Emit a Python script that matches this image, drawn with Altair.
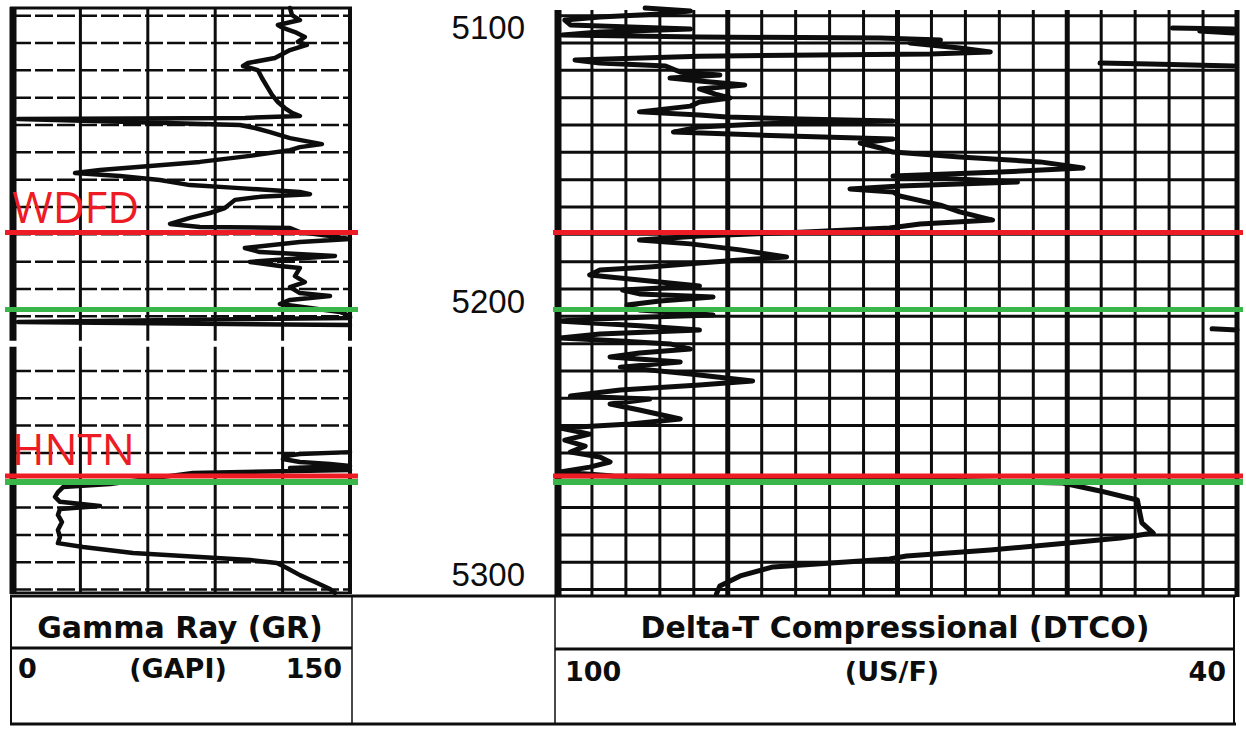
import altair as alt
import pandas as pd

# Gamma Ray curve (GAPI) vs depth (ft), two visible segments (off-scale in between)
GR1_DEPTH = [5092.2, 5094.8, 5096.6, 5098.4, 5099.5, 5101.0, 5102.8, 5104.6, 5105.7, 5107.6,
             5110.5, 5112.3, 5113.4, 5114.9, 5117.8, 5121.5, 5124.0, 5126.6, 5128.8, 5130.6,
             5131.7, 5132.4, 5132.8, 5133.9, 5135.0, 5136.1, 5137.6, 5139.8, 5142.0, 5143.1,
             5144.2, 5146.3, 5148.5, 5150.0, 5151.5, 5152.6, 5153.7, 5155.1, 5157.0, 5158.1,
             5159.5, 5160.3, 5161.3, 5162.4, 5165.4, 5167.2, 5169.0, 5171.2, 5172.3, 5172.7,
             5174.2, 5175.6, 5176.7, 5177.8, 5180.0, 5181.5, 5182.9, 5184.0, 5185.1, 5186.6,
             5187.3, 5190.3, 5192.5, 5194.3, 5196.5, 5197.6, 5199.0, 5200.5, 5202.0, 5203.4,
             5204.9, 5205.6, 5207.1, 5208.2]
GR1_VALUE = [123.3, 124.2, 127.7, 117.9, 120.2, 125.5, 129.9, 126.8, 130.8, 123.3,
             116.6, 104.6, 102.4, 109.0, 110.8, 113.5, 115.3, 117.9, 121.0, 124.2,
             127.7, 103.2, 2.2, 52.1, 101.0, 107.7, 114.4, 123.3, 137.5, 127.7,
             123.3, 105.5, 83.2, 61.0, 38.7, 27.6, 47.6, 65.4, 78.8, 101.0,
             127.7, 132.2, 109.9, 98.8, 94.3, 87.7, 78.8, 69.9, 83.2, 123.3,
             127.7, 141.1, 150.0, 127.7, 103.2, 109.9, 143.3, 123.3, 105.5, 118.8,
             127.7, 125.5, 129.9, 123.3, 127.7, 141.1, 123.3, 118.8, 132.2, 145.5,
             150.0, 150.0, 2.2, 150.0]
GR2_DEPTH = [5254.7, 5255.4, 5256.1, 5257.2, 5258.3, 5259.0, 5259.8, 5260.5, 5261.2, 5262.3,
             5266.4, 5267.5, 5269.3, 5271.1, 5272.9, 5274.4, 5275.5, 5277.7, 5280.3, 5283.2,
             5285.8, 5288.0, 5289.4, 5291.6, 5293.1, 5294.2, 5295.3, 5297.1, 5299.7, 5302.2,
             5304.8, 5306.2]
GR2_VALUE = [150.0, 127.7, 121.0, 120.2, 127.7, 141.1, 150.0, 123.3, 150.0, 80.1,
             43.2, 22.3, 20.0, 18.7, 20.9, 38.7, 20.9, 20.0, 21.8, 20.0,
             20.9, 20.0, 31.2, 53.4, 83.2, 105.5, 117.5, 121.9, 127.7, 134.4,
             141.1, 143.3]

# Delta-T Compressional curve (us/ft) vs depth
DT_DEPTH = [5092.2, 5093.3, 5094.4, 5095.5, 5096.6, 5098.4, 5099.9, 5101.0, 5102.1, 5102.8,
            5103.2, 5103.9, 5105.0, 5106.8, 5108.3, 5109.0, 5109.8, 5111.2, 5112.3, 5113.4,
            5115.6, 5116.7, 5117.8, 5118.9, 5120.4, 5121.8, 5123.7, 5125.1, 5126.6, 5128.1,
            5130.2, 5131.3, 5132.1, 5132.8, 5133.5, 5134.6, 5135.7, 5137.6, 5138.7, 5140.1,
            5141.6, 5143.4, 5144.9, 5146.7, 5148.5, 5150.7, 5152.2, 5153.7, 5155.9, 5157.3,
            5158.4, 5159.5, 5161.0, 5164.3, 5166.8, 5169.8, 5171.2, 5172.7, 5174.2, 5175.6,
            5177.1, 5178.5, 5180.7, 5183.3, 5184.4, 5185.5, 5187.0, 5188.1, 5189.9, 5191.7,
            5193.9, 5195.4, 5196.8, 5197.9, 5199.4, 5200.9, 5202.7, 5204.5, 5205.6, 5206.7,
            5208.5, 5210.0, 5211.5, 5212.9, 5214.0, 5215.1, 5217.0, 5218.4, 5219.9, 5221.7,
            5223.6, 5226.1, 5228.7, 5230.1, 5232.0, 5234.2, 5235.3, 5237.1, 5239.3, 5242.6,
            5244.4, 5245.9, 5248.1, 5250.3, 5252.5, 5254.7, 5256.5, 5258.3, 5260.2, 5262.0,
            5263.4, 5264.6, 5266.0, 5268.9, 5272.2, 5276.6, 5280.6, 5284.3, 5286.1, 5288.3,
            5290.5, 5292.7, 5293.8, 5296.7, 5300.0, 5303.7, 5306.6]
DT_VALUE = [92.3, 88.3, 91.0, 96.3, 99.4, 98.9, 88.3, 96.3, 99.6, 87.5,
            71.5, 66.2, 68.9, 64.5, 61.8, 67.1, 87.5, 98.5, 96.3, 90.5,
            89.2, 85.7, 90.1, 87.5, 83.5, 87.5, 86.1, 84.8, 87.5, 88.3,
            92.8, 87.5, 85.1, 78.6, 70.4, 82.2, 87.5, 89.8, 82.2, 70.4,
            73.3, 71.5, 70.4, 64.5, 57.4, 53.6, 60.9, 70.4, 59.4, 69.8,
            74.2, 70.4, 69.8, 66.2, 64.5, 61.6, 68.0, 70.7, 78.6, 87.5,
            92.8, 88.3, 83.9, 79.8, 83.9, 87.5, 91.9, 96.3, 97.2, 92.8,
            87.5, 94.3, 92.8, 86.3, 91.0, 93.9, 92.8, 86.3, 94.5, 100.0,
            92.8, 87.5, 96.3, 99.8, 94.5, 90.1, 88.3, 92.8, 95.4, 89.2,
            94.5, 88.3, 82.8, 87.5, 94.5, 98.9, 91.9, 95.4, 92.8, 89.2,
            93.6, 99.8, 97.2, 99.4, 97.6, 98.9, 96.3, 95.4, 97.2, 99.8,
            95.1, 69.8, 55.4, 52.1, 48.8, 48.6, 48.4, 47.4, 50.3, 55.9,
            61.8, 69.2, 70.7, 81.0, 83.9, 85.7, 86.0]
# wrapped (off-scale) pieces at the right edge of the DT track
DTW_SEG = ["w1", "w1", "w1", "w1", "w2", "w2", "w2", "w3", "w3"]
DTW_DEPTH = [5099.5, 5099.9, 5100.6, 5101.3, 5112.3, 5112.7, 5113.4, 5209.6, 5210.0]
DTW_VALUE = [45.7, 40.3, 43.3, 40.3, 52.1, 47.7, 40.3, 42.2, 40.0]

# formation tops
TOP_NAMES = ["WDFD", "HNTN"]
TOP_DEPTHS = [5174.3, 5263.4]
BASE_DEPTHS = [5202.5, 5265.6]

DEPTH_LABELS = [5100, 5200, 5300]
GRID_DEPTHS = [5095, 5105, 5115, 5125, 5135, 5145, 5155, 5165, 5175, 5185, 5195,
               5205, 5215, 5225, 5235, 5245, 5255, 5265, 5275, 5285, 5295, 5305]
GR_GRID = [0, 30, 60, 90, 120, 150]
DT_GRID = [100, 97, 94, 91, 88, 85, 82, 79, 76, 73, 70, 67, 64, 61, 58, 55, 52, 49, 46, 43, 40]
DT_MAJOR = [100, 85, 70, 55, 40]

RED = "#ED1C24"
GREEN = "#3AB54A"
INK = "#0d0d0d"

# ---------------- scales ----------------
ysc = alt.Scale(domain=[5092.19, 5306.98], range=[8, 595], nice=False, zero=False)
grsc = alt.Scale(domain=[0, 150], range=[13, 350], nice=False, zero=False)
dtsc = alt.Scale(domain=[100, 40], range=[558, 1237], nice=False, zero=False)

Y = lambda f: alt.Y(f, scale=ysc, axis=None)

layers = []

# ---- GR track grid ----
gr_w = [7 if v == 0 else (4 if v == 150 else 3) for v in GR_GRID]
layers.append(alt.Chart(pd.DataFrame({"v": GR_GRID, "w": gr_w})).mark_rule(color=INK).encode(
    x=alt.X("v:Q", scale=grsc, axis=None), y=alt.value(7), y2=alt.value(594),
    strokeWidth=alt.StrokeWidth("w:Q", scale=None)))
layers.append(alt.Chart(pd.DataFrame({"d": GRID_DEPTHS})).mark_rule(
    color=INK, strokeWidth=2.5, strokeDash=[18, 4]).encode(
    y=Y("d:Q"), x=alt.value(13), x2=alt.value(350)))
layers.append(alt.Chart(pd.DataFrame({"d": [5092.19]})).mark_rule(color=INK, strokeWidth=3).encode(
    y=Y("d:Q"), x=alt.value(10), x2=alt.value(352)))
layers.append(alt.Chart(pd.DataFrame({"d": [5306.2]})).mark_rule(color=INK, strokeWidth=2.5).encode(
    y=Y("d:Q"), x=alt.value(10), x2=alt.value(352)))
# scan break in the GR track
layers.append(alt.Chart(pd.DataFrame({"d": [5215.0]})).mark_rule(color="white", strokeWidth=6).encode(
    y=Y("d:Q"), x=alt.value(6), x2=alt.value(357)))

# ---- DT track grid ----
dt_w = [7 if v == 100 else (5 if v in DT_MAJOR else 3) for v in DT_GRID]
layers.append(alt.Chart(pd.DataFrame({"v": DT_GRID, "w": dt_w})).mark_rule(color=INK).encode(
    x=alt.X("v:Q", scale=dtsc, axis=None), y=alt.value(10), y2=alt.value(597),
    strokeWidth=alt.StrokeWidth("w:Q", scale=None)))
layers.append(alt.Chart(pd.DataFrame({"d": GRID_DEPTHS})).mark_rule(color=INK, strokeWidth=3).encode(
    y=Y("d:Q"), x=alt.value(558), x2=alt.value(1237)))

# ---- curves ----
gr_df = pd.DataFrame({
    "depth": GR1_DEPTH + GR2_DEPTH,
    "gr": GR1_VALUE + GR2_VALUE,
    "seg": ["a"] * len(GR1_DEPTH) + ["b"] * len(GR2_DEPTH),
})
gr_df["i"] = range(len(gr_df))
layers.append(alt.Chart(gr_df).mark_line(color=INK, strokeWidth=4.5, strokeJoin="round", strokeCap="round").encode(
    x=alt.X("gr:Q", scale=grsc, axis=None), y=Y("depth:Q"), detail="seg:N", order="i:Q"))

dt_df = pd.DataFrame({
    "depth": DT_DEPTH + DTW_DEPTH,
    "dt": DT_VALUE + DTW_VALUE,
    "seg": ["m"] * len(DT_DEPTH) + DTW_SEG,
})
dt_df["i"] = range(len(dt_df))
layers.append(alt.Chart(dt_df).mark_line(color=INK, strokeWidth=5, strokeJoin="round", strokeCap="round").encode(
    x=alt.X("dt:Q", scale=dtsc, axis=None), y=Y("depth:Q"), detail="seg:N", order="i:Q"))

# ---- formation top markers ----
mk = pd.DataFrame({
    "depth": [BASE_DEPTHS[0], BASE_DEPTHS[1], TOP_DEPTHS[0], TOP_DEPTHS[1]],
    "c": [GREEN, GREEN, RED, RED],
    "w": [5, 6, 5, 5],
})
for x1, x2 in [(5, 358), (553, 1243)]:
    layers.append(alt.Chart(mk).mark_rule().encode(
        y=Y("depth:Q"), x=alt.value(x1), x2=alt.value(x2),
        color=alt.Color("c:N", scale=None), strokeWidth=alt.StrokeWidth("w:Q", scale=None)))

lab = pd.DataFrame({"name": TOP_NAMES, "depth": [TOP_DEPTHS[0] - 3.4, TOP_DEPTHS[1] - 4.0]})
layers.append(alt.Chart(lab).mark_text(font="Open Sans", fontSize=44, color=RED, align="left",
                                       baseline="alphabetic").encode(
    x=alt.value(12), y=Y("depth:Q"), text="name:N"))

# ---- depth labels ----
dl = pd.DataFrame({"depth": DEPTH_LABELS, "t": [str(v) for v in DEPTH_LABELS]})
layers.append(alt.Chart(dl).mark_text(font="Liberation Sans", fontSize=33, color=INK, align="right",
                                      baseline="middle").encode(
    x=alt.value(525), y=Y("depth:Q"), text="t:N"))

# ---- header box ----
def hline(y, x1, x2, w):
    return alt.Chart(pd.DataFrame({"k": [0]})).mark_rule(color=INK, strokeWidth=w).encode(
        y=alt.value(y), x=alt.value(x1), x2=alt.value(x2))

def vline(x, y1, y2, w):
    return alt.Chart(pd.DataFrame({"k": [0]})).mark_rule(color=INK, strokeWidth=w).encode(
        x=alt.value(x), y=alt.value(y1), y2=alt.value(y2))

def txt(t, x, y, align, size):
    return alt.Chart(pd.DataFrame({"t": [t]})).mark_text(
        font="DejaVu Sans", fontWeight="bold", fontSize=size, color=INK, align=align,
        baseline="alphabetic").encode(x=alt.value(x), y=alt.value(y), text="t:N")

layers += [
    hline(596, 10, 1236, 3), hline(724, 10, 1236, 3),
    hline(648, 10, 352, 3), hline(649, 555, 1235, 3),
    vline(11, 596, 724, 2), vline(352, 596, 724, 1.5),
    vline(555, 596, 724, 1.5), vline(1234, 596, 724, 2),
    txt("Gamma Ray (GR)", 180, 638, "center", 30),
    txt("0", 18, 678, "left", 27),
    txt("(GAPI)", 178, 678, "center", 27),
    txt("150", 342, 678, "right", 27),
    txt("Delta-T Compressional (DTCO)", 895, 638, "center", 30),
    txt("100", 565, 681, "left", 27),
    txt("(US/F)", 892, 681, "center", 27),
    txt("40", 1226, 681, "right", 27),
]

chart = alt.layer(*layers).resolve_scale(x="independent").properties(
    width=1246, height=730, autosize=alt.AutoSizeParams(type="none"), padding=0,
    background="white"
).configure_view(strokeWidth=0)

chart.save("out.html", embed_options={"renderer": "svg", "actions": False})
